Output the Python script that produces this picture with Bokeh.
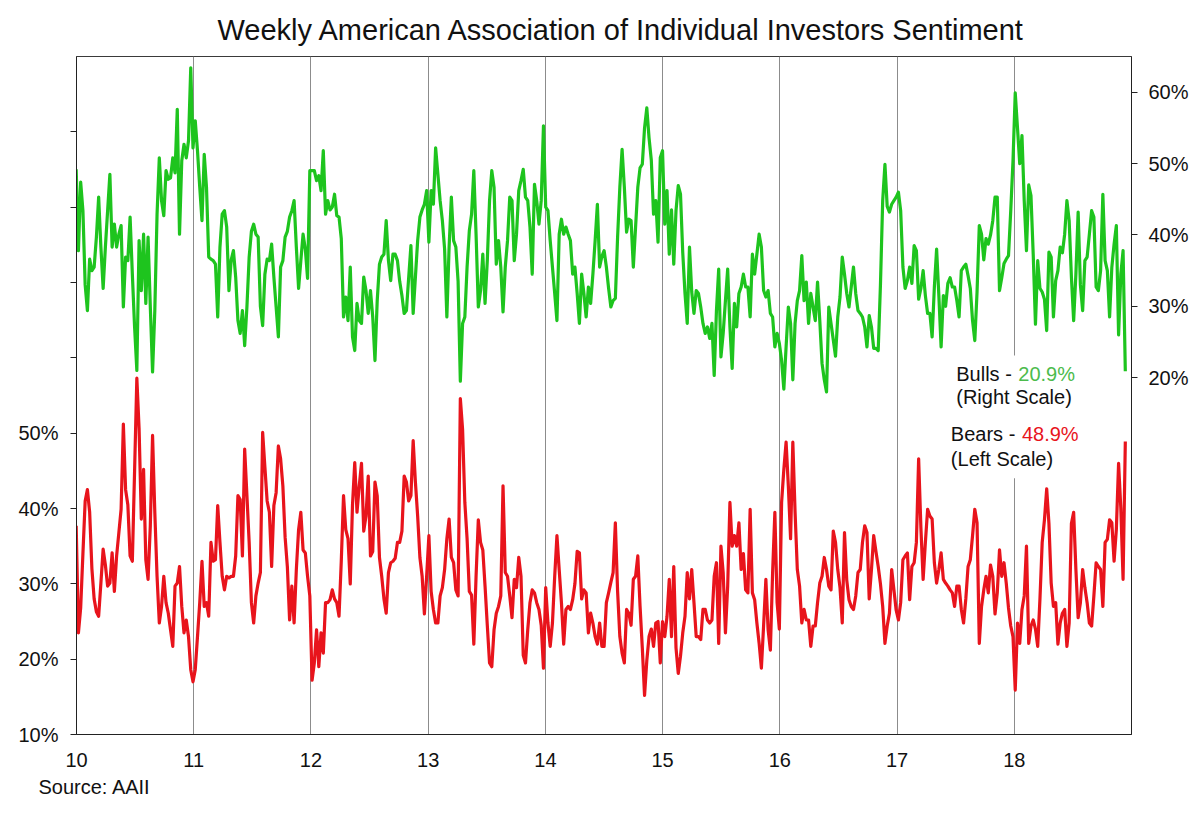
from bokeh.plotting import figure
from bokeh.models import Range1d, LinearAxis, FixedTicker, Label, BoxAnnotation, Title
from bokeh.embed import file_html
from bokeh.resources import INLINE
import numpy as np

FONT = "Liberation Sans"

# AAII weekly survey, one reading per week, first week 2009-12-31
bulls = [
    49.2, 37.8, 47.4, 43.4, 33.0, 29.4, 36.6, 35.0, 35.5, 39.7,
    45.3, 38.3, 32.5, 38.3, 43.4, 48.5, 38.3, 41.5, 38.3, 40.1,
    41.3, 29.9, 36.9, 36.4, 42.5, 34.5, 27.1, 21.0, 39.2, 32.2,
    40.1, 30.4, 39.7, 29.9, 20.8, 29.4, 42.9, 50.8, 44.8, 42.7,
    49.0, 47.8, 48.0, 50.8, 48.7, 57.6, 40.1, 50.4, 52.7, 50.8,
    53.2, 63.4, 52.2, 56.0, 51.8, 46.7, 42.0, 51.3, 46.7, 36.9,
    36.6, 36.4, 35.9, 28.5, 38.3, 42.9, 43.4, 41.1, 32.2, 36.5,
    37.8, 34.1, 28.0, 26.2, 29.4, 24.5, 29.9, 36.9, 40.5, 41.5,
    40.1, 39.7, 30.0, 27.3, 34.5, 36.6, 36.4, 38.7, 34.1, 29.9,
    25.7, 35.5, 36.4, 39.7, 40.5, 42.5, 43.4, 44.8, 38.3, 32.5,
    36.4, 40.1, 38.0, 33.9, 49.0, 49.0, 49.0, 47.6, 48.3, 46.2,
    51.8, 42.9, 44.8, 43.5, 43.9, 45.7, 42.7, 42.5, 39.5, 28.5,
    31.3, 28.0, 35.5, 25.7, 23.8, 30.4, 28.0, 27.6, 34.1, 32.2,
    29.0, 32.2, 28.5, 22.4, 30.8, 35.9, 36.9, 37.3, 42.0, 36.4,
    33.6, 37.3, 37.3, 36.4, 33.5, 31.5, 29.0, 29.4, 34.0, 38.5,
    29.0, 34.1, 39.2, 42.5, 43.5, 44.3, 46.2, 39.0, 46.2, 44.3,
    52.2, 48.5, 44.8, 42.0, 38.0, 28.5, 38.3, 45.3, 39.2, 38.3,
    33.5, 19.5, 27.6, 28.5, 35.5, 40.6, 42.9, 49.0, 40.1, 29.9,
    32.2, 37.3, 30.4, 36.4, 44.8, 49.0, 46.7, 35.9, 39.2, 35.5,
    29.2, 35.5, 39.2, 45.3, 44.8, 36.4, 40.1, 46.2, 47.6, 49.2,
    45.3, 44.8, 41.1, 34.5, 47.1, 44.8, 41.5, 44.8, 55.3, 43.9,
    43.4, 39.2, 35.5, 31.8, 28.0, 40.1, 42.2, 40.1, 41.1, 40.1,
    39.2, 34.5, 35.5, 31.8, 27.6, 34.5, 31.8, 28.5, 32.7, 30.4,
    34.5, 39.2, 44.3, 35.5, 37.0, 37.8, 35.5, 32.5, 29.9, 30.8,
    31.1, 39.7, 46.7, 52.0, 46.7, 40.4, 42.2, 42.0, 35.5, 41.1,
    46.7, 49.4, 49.9, 55.0, 57.8, 53.6, 50.5, 42.9, 44.8, 39.0,
    50.8, 51.8, 41.5, 46.2, 37.3, 43.5, 35.9, 43.4, 46.9, 45.7,
    37.5, 31.8, 27.6, 38.3, 32.0, 29.0, 32.2, 31.8, 29.9, 27.6,
    26.2, 27.1, 25.5, 27.6, 20.3, 29.4, 35.2, 22.9, 26.2, 30.8,
    35.2, 27.1, 21.3, 30.4, 27.1, 31.8, 32.7, 34.5, 32.7, 32.7,
    28.5, 37.3, 34.5, 37.3, 40.1, 38.3, 32.2, 31.3, 32.2, 29.0,
    28.5, 24.3, 26.2, 24.8, 22.4, 18.4, 24.3, 29.9, 27.6, 19.7,
    27.6, 30.8, 32.2, 37.1, 30.8, 33.4, 27.6, 31.8, 29.9, 28.0,
    33.4, 28.0, 22.0, 19.7, 18.0, 29.9, 27.6, 25.3, 23.0, 28.5,
    31.3, 36.9, 34.5, 31.8, 29.9, 32.7, 35.5, 31.8, 29.4, 29.0,
    28.5, 27.1, 24.3, 28.7, 27.1, 24.1, 24.1, 23.8, 33.0, 44.8,
    49.9, 44.0, 43.2, 44.3, 44.8, 45.3, 46.0, 43.4, 35.5, 32.5,
    33.6, 35.5, 33.2, 38.5, 37.8, 31.0, 32.5, 35.0, 31.5, 29.0,
    29.0, 25.7, 32.7, 38.0, 31.5, 24.3, 31.5, 30.0, 33.2, 34.0,
    32.7, 32.7, 30.8, 28.5, 35.0, 35.5, 35.9, 34.3, 32.5, 28.0,
    25.2, 32.0, 41.3, 40.1, 36.5, 39.5, 38.7, 40.0, 42.0, 45.3,
    45.3, 32.2, 34.0, 36.0, 36.6, 37.1, 43.4, 50.4, 59.9, 55.0,
    50.0, 53.9, 44.8, 37.8, 47.0, 45.5, 37.3, 27.5, 36.4, 32.5,
    32.0, 31.0, 26.6, 37.6, 36.9, 28.5, 33.6, 35.0, 38.3, 37.5,
    40.1, 44.8, 42.0, 34.1, 28.0, 34.5, 43.2, 33.0, 29.4, 36.4,
    36.9, 40.1, 43.4, 42.5, 32.7, 32.2, 35.0, 45.7, 36.4, 35.0,
    28.5, 35.5, 38.7, 41.3, 26.0, 34.5, 37.8, 20.9,
]

bears = [
    37.7, 23.5, 26.8, 34.0, 41.0, 42.5, 39.5, 32.0, 28.0, 26.3,
    25.7, 30.1, 34.6, 32.5, 29.7, 30.1, 34.1, 29.0, 33.7, 36.8,
    39.9, 51.2, 42.5, 40.5, 33.7, 33.0, 45.0, 57.3, 50.6, 38.6,
    45.2, 33.2, 30.6, 37.7, 49.7, 39.5, 31.0, 24.8, 27.0, 31.0,
    27.5, 26.1, 23.9, 21.7, 29.7, 30.1, 32.3, 27.0, 23.5, 25.2,
    23.0, 18.6, 17.0, 18.6, 23.0, 27.5, 33.0, 27.0, 27.5, 25.7,
    35.5, 33.0, 33.2, 40.4, 35.5, 31.0, 29.2, 31.0, 30.8, 31.0,
    31.0, 33.7, 41.7, 41.2, 33.7, 47.9, 41.7, 35.5, 27.5, 24.8,
    28.4, 30.1, 31.5, 50.1, 45.5, 41.0, 39.5, 32.3, 40.4, 42.1,
    48.3, 46.6, 43.0, 36.2, 32.3, 25.2, 29.7, 24.8, 31.9, 37.2,
    39.5, 34.5, 34.1, 31.0, 28.4, 17.2, 19.5, 23.9, 19.0, 23.5,
    20.8, 27.5, 27.5, 27.9, 29.2, 28.0, 27.5, 25.7, 33.0, 41.7,
    37.2, 36.0, 30.0, 40.5, 46.1, 39.5, 43.0, 46.0, 37.0, 39.0,
    44.3, 33.7, 34.3, 43.5, 41.7, 33.5, 31.0, 28.0, 26.1, 31.5,
    32.8, 33.0, 33.4, 35.5, 35.5, 37.0, 44.3, 43.5, 41.0, 41.7,
    49.0, 43.5, 39.0, 33.5, 31.0, 26.0, 31.0, 36.4, 29.0, 26.6,
    24.8, 24.8, 28.4, 29.5, 31.9, 36.0, 38.6, 33.5, 32.8, 29.2,
    28.4, 54.6, 50.5, 40.8, 36.0, 29.0, 28.5, 22.0, 31.0, 38.5,
    35.5, 34.5, 29.7, 24.5, 19.5, 19.0, 23.9, 26.1, 27.0, 28.4,
    43.0, 31.5, 31.0, 28.4, 25.5, 30.6, 29.5, 33.5, 31.0, 20.5,
    19.5, 23.9, 27.5, 29.2, 28.8, 27.5, 26.6, 24.5, 18.8, 29.5,
    24.8, 21.7, 24.8, 31.0, 36.4, 31.9, 27.5, 22.0, 26.6, 27.0,
    26.6, 27.9, 30.0, 34.3, 34.1, 28.0, 29.2, 28.8, 23.5, 26.1,
    24.8, 23.0, 22.0, 24.8, 21.7, 21.7, 27.5, 28.8, 30.2, 31.5,
    38.1, 29.0, 23.0, 20.8, 19.5, 26.6, 26.1, 24.5, 30.6, 31.0,
    33.7, 27.0, 21.5, 15.2, 19.8, 23.0, 24.0, 21.7, 24.8, 25.0,
    19.5, 25.0, 23.0, 25.7, 30.6, 23.0, 32.3, 21.5, 18.1, 20.4,
    23.5, 25.7, 31.5, 28.0, 31.9, 27.5, 23.0, 23.0, 22.6, 26.6,
    26.6, 25.2, 24.8, 25.2, 31.0, 32.8, 22.1, 35.0, 31.5, 23.5,
    29.7, 40.8, 35.0, 36.4, 35.0, 38.1, 31.9, 34.0, 29.2, 28.8,
    39.9, 28.8, 27.9, 24.8, 22.1, 18.8, 24.5, 30.6, 23.9, 21.2,
    31.5, 39.5, 27.5, 24.0, 40.8, 45.2, 48.8, 43.0, 36.0, 48.8,
    39.5, 31.9, 29.7, 24.8, 26.6, 25.2, 25.2, 21.7, 24.4, 24.4,
    27.5, 30.1, 31.0, 33.5, 31.9, 29.7, 29.2, 37.0, 35.5, 31.9,
    29.5, 24.8, 36.8, 30.5, 27.9, 27.0, 26.6, 28.4, 31.5, 31.9,
    35.5, 37.7, 36.8, 28.0, 31.9, 36.4, 34.3, 32.3, 30.0, 27.0,
    22.1, 24.4, 26.1, 31.9, 29.2, 26.5, 25.2, 27.5, 33.2, 33.7,
    34.1, 27.9, 32.3, 32.8, 35.5, 46.6, 37.5, 30.6, 35.5, 39.9,
    39.0, 38.6, 32.8, 30.1, 31.9, 34.1, 30.6, 30.1, 29.7, 29.2,
    28.8, 27.0, 29.7, 29.7, 26.6, 24.8, 28.0, 32.3, 33.2, 36.4,
    39.9, 38.1, 22.1, 27.0, 29.2, 31.0, 28.8, 32.5, 31.0, 26.0,
    28.8, 34.5, 31.0, 32.8, 30.1, 26.8, 24.4, 23.0, 15.9, 24.8,
    22.1, 26.6, 28.4, 35.0, 22.1, 24.4, 25.2, 24.0, 21.7, 28.0,
    35.5, 38.5, 42.6, 38.0, 30.1, 27.0, 27.5, 22.0, 24.8, 26.1,
    26.6, 21.7, 24.8, 38.0, 39.5, 31.9, 25.5, 27.5, 31.9, 29.5,
    27.5, 24.8, 24.4, 28.4, 32.8, 32.3, 31.9, 27.0, 35.5, 35.9,
    38.5, 38.1, 33.0, 37.2, 46.0, 40.0, 30.6, 48.9,
]

years = [2010, 2011, 2012, 2013, 2014, 2015, 2016, 2017, 2018]
year_labels = ["10", "11", "12", "13", "14", "15", "16", "17", "18"]
bear_ticks = [10, 20, 30, 40, 50, 60, 70, 80, 90]
bear_labels = ["10%", "20%", "30%", "40%", "50%", "", "", "", ""]
bull_ticks = [20, 30, 40, 50, 60]
bull_labels = ["20%", "30%", "40%", "50%", "60%"]

# week number -> decimal year (first survey 2009-12-31)
x_bulls = 2010 + (np.arange(len(bulls)) * 7 - 1) / 365.25
x_bears = 2010 + (np.arange(len(bears)) * 7 - 1) / 365.25

p = figure(
    frame_width=1055, frame_height=678,
    x_range=Range1d(2010, 2019), y_range=Range1d(10, 100),
    output_backend="svg", toolbar_location=None, tools="",
    min_border_left=76, min_border_right=61,
    min_border_top=56, min_border_bottom=72,
)
p.extra_y_ranges = {"bulls": Range1d(-30, 65)}
p.background_fill_color = "white"
p.border_fill_color = "white"
p.outline_line_color = "#3a3a3a"
p.outline_line_width = 1

# title above, source note below
p.title.text = "Weekly American Association of Individual Investors Sentiment"
p.title.text_font = FONT
p.title.text_font_size = "29px"
p.title.text_font_style = "normal"
p.title.text_color = "#111111"
p.title.align = "left"
p.title.offset = 141
p.title.standoff = 21

p.add_layout(Title(text="Source: AAII", text_font=FONT, text_font_size="20px",
                   text_font_style="normal", text_color="#111111",
                   align="left", offset=-38, vertical_align="top",
                   standoff=12), "below")

right = LinearAxis(y_range_name="bulls")
p.add_layout(right, "right")

def style_axis(ax):
    ax.axis_line_color = "#222222"
    ax.axis_line_width = 1
    ax.major_tick_line_color = "#222222"
    ax.minor_tick_line_color = None
    ax.major_label_text_font = FONT
    ax.major_label_text_font_size = "20px"
    ax.major_label_text_color = "#111111"

xax = p.xaxis[0]
style_axis(xax)
xax.ticker = FixedTicker(ticks=years)
xax.major_label_overrides = dict(zip(years, year_labels))
xax.major_tick_out = 0
xax.major_tick_in = 0
xax.major_label_standoff = 18

yax = p.yaxis[0]
style_axis(yax)
yax.ticker = FixedTicker(ticks=bear_ticks)
yax.major_label_overrides = dict(zip(bear_ticks, bear_labels))
yax.major_tick_out = 6
yax.major_tick_in = 0
yax.major_label_standoff = 12

style_axis(right)
right.ticker = FixedTicker(ticks=bull_ticks)
right.major_label_overrides = dict(zip(bull_ticks, bull_labels))
right.major_tick_out = 6
right.major_tick_in = 0
right.major_label_standoff = 11

p.xgrid.ticker = FixedTicker(ticks=years[1:])
p.xgrid.grid_line_color = "#8c8c8c"
p.xgrid.grid_line_width = 1
p.ygrid.grid_line_color = None

p.line(x_bears, bears, line_color="#e8141c", line_width=3.2, line_join="round")
p.line(x_bulls, bulls, line_color="#1ec41e", line_width=3.2, line_join="round",
       y_range_name="bulls")

# white box behind the legend text (hides the gridline)
p.add_layout(BoxAnnotation(left=2017.41, right=2018.6, bottom=44.0, top=60.3,
                           fill_color="white", fill_alpha=1.0, line_color=None))

def label(x, y, text, color="#111111"):
    p.add_layout(Label(x=x, y=y, text=text, text_color=color, text_font=FONT,
                       text_font_size="20px", text_baseline="alphabetic"))

label(2017.505, 57.87, "Bulls - ")
label(2018.034, 57.87, f"{bulls[-1]}%", color="#4cbb4c")
label(2017.505, 54.78, "(Right Scale)")
label(2017.459, 49.91, "Bears - ")
label(2018.065, 49.91, f"{bears[-1]}%", color="#e8141c")
label(2017.459, 46.59, "(Left Scale)")

open("out.html", "w").write(file_html(p, INLINE))
